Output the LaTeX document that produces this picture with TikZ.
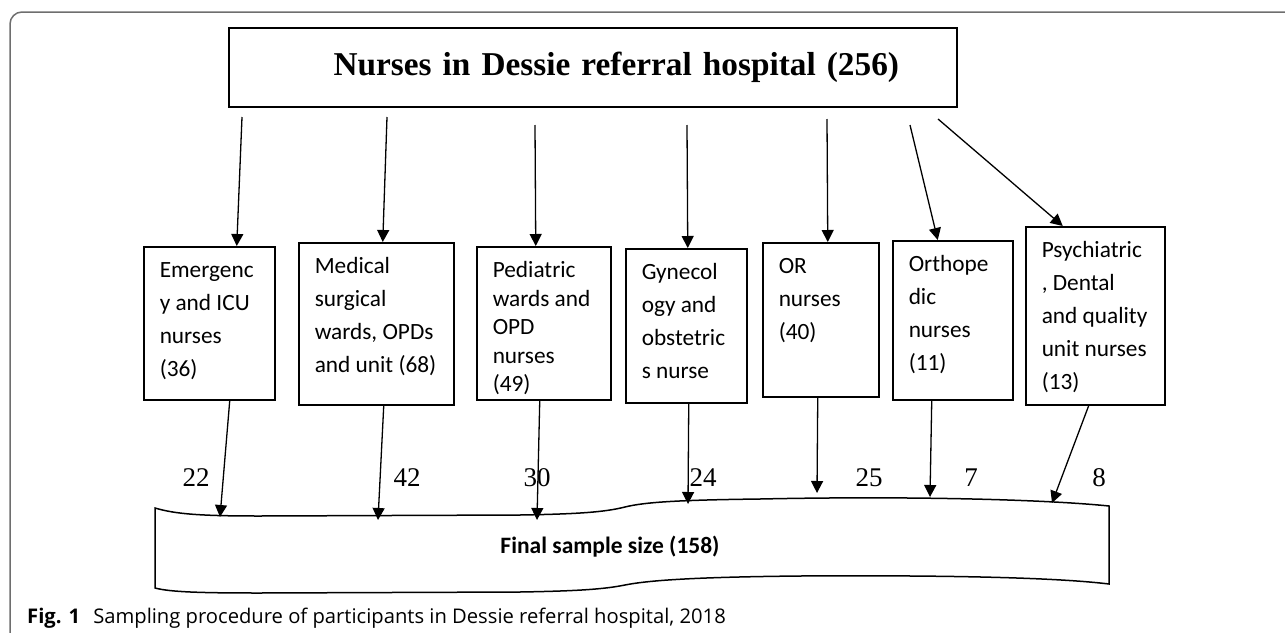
\documentclass[tikz,border=0pt]{standalone}
\usepackage{fontspec}
\setmainfont{Carlito}
\newfontfamily\titlefont{Liberation Serif}
\newfontfamily\capfont{Open Sans}
\usetikzlibrary{arrows.meta}
\definecolor{framegray}{RGB}{110,110,110}

\newcommand{\unitlines}[3]{\parbox[t][#1][t]{#2}{\strut#3}}

\begin{document}
\begin{tikzpicture}[
    x=1pt, y=-1pt,
    head/.style={draw, line width=1.5pt, minimum height=79pt, text width=612pt,
      inner xsep=58pt, align=right, font=\titlefont\bfseries\fontsize{33.3}{34}\selectfont},
    unit/.style={draw, line width=1.5pt, anchor=north west, inner xsep=16pt,
      inner ysep=8pt, font=\fontsize{23.3}{33}\selectfont},
    link/.style={line width=1.3pt, -{Triangle[length=12pt, width=12pt]}},
    share/.style={font=\titlefont\fontsize{27}{27}\selectfont},
    pool/.style={line width=1.5pt},
    frame/.style={draw=framegray, line width=1.5pt, rounded corners=12pt},
  ]
  \useasboundingbox (0,0) rectangle (1285,632);
  \draw[frame] (10,660) |- (1300,12);

  \node[head] (staff) at (593,67.5) {Nurses in Dessie referral hospital (256)};

  \node[unit] (emg) at (143,246) {\unitlines{137pt}{99pt}{Emergenc\\y~and~ICU\\nurses\\(36)}};
  \node[unit] (med) at (298,242) {\unitlines{146pt}{123pt}{Medical\\surgical\\wards,~OPDs\\and~unit~(68)}};
  \node[unit] (ped) at (476,246) {\unitlines{137pt}{102pt}{\setlength{\baselineskip}{28.5pt}Pediatric\\wards~and\\OPD\\nurses\\(49)}};
  \node[unit] (gyn) at (625,248) {\unitlines{138pt}{89pt}{Gynecol\\ogy~and\\obstetric\\s~nurse}};
  \node[unit] (orn) at (762,242) {\unitlines{138pt}{84pt}{OR\\nurses\\(40)}};
  \node[unit] (ort) at (892,240) {\unitlines{143pt}{88pt}{Orthope\\dic\\nurses\\(11)}};
  \node[unit] (psy) at (1025,226) {\unitlines{162pt}{107pt}{Psychiatric\\,~Dental\\and~quality\\unit~nurses\\(13)}};

  \coordinate (s1) at (242,117);
  \coordinate (s2) at (387,117);
  \coordinate (s3) at (535,125);
  \coordinate (s4) at (687,125);
  \coordinate (s5) at (827,119);
  \coordinate (s6) at (910,125);
  \coordinate (s7) at (938,119);

  \draw[link] (s1) -- ([xshift=27.5pt]emg.north);
  \draw[link] (s2) -- ([xshift=6.5pt]med.north);
  \draw[link] (s3) -- ([xshift=-8pt]ped.north);
  \draw[link] (s4) -- ([xshift=1.5pt]gyn.north);
  \draw[link] (s5) -- ([xshift=7pt]orn.north);
  \draw[link] (s6) -- ([xshift=-15pt]ort.north);
  \draw[link] (s7) -- ([xshift=-32.5pt]psy.north);

  \draw[pool] (155,508) .. controls (175,514) and (200,516) .. (260,516)
    -- (520,515) .. controls (580,514) and (605,512) .. (625,507)
    .. controls (645,502) and (680,500) .. (760,499)
    .. controls (900,496) and (1040,499) .. (1109,506)
    -- (1109,584) .. controls (1060,578) and (960,575) .. (800,576)
    .. controls (700,577) and (650,580) .. (625,585)
    .. controls (605,589) and (580,591) .. (520,592)
    -- (260,593) .. controls (200,593) and (170,592) .. (155,588) -- cycle;
  \node[font=\bfseries\fontsize{23.5}{28}\selectfont] (final) at (610,547) {Final sample size (158)};

  \coordinate (e1) at (220,517);
  \coordinate (e2) at (378,520);
  \coordinate (e3) at (537,520);
  \coordinate (e4) at (688,504);
  \coordinate (e5) at (817,493);
  \coordinate (e6) at (930,497);
  \coordinate (e7) at (1052,503);

  \draw[link] ([xshift=20.5pt]emg.south) -- (e1);
  \draw[link] ([xshift=7.5pt]med.south) -- (e2);
  \draw[link] ([xshift=-4pt]ped.south) -- (e3);
  \draw[link] ([xshift=2.5pt]gyn.south) -- (e4);
  \draw[link] ([xshift=-3pt]orn.south) -- (e5);
  \draw[link] ([xshift=-21pt]ort.south) -- (e6);
  \draw[link] ([xshift=-6.5pt]psy.south) -- (e7);

  \node[share] (n1) at (196,478) {22};
  \node[share] (n2) at (407,478) {42};
  \node[share] (n3) at (537,478) {30};
  \node[share] (n4) at (703,478) {24};
  \node[share] (n5) at (869,478) {25};
  \node[share] (n6) at (971,478) {7};
  \node[share] (n7) at (1099,478) {8};

  \node[anchor=base west, inner sep=0pt, font=\capfont\fontsize{20.2}{22}\selectfont]
    (figcap) at (27,623) {\textbf{Fig. 1}\hspace{0.65em}Sampling procedure of participants in Dessie referral hospital, 2018};
\end{tikzpicture}
\end{document}
